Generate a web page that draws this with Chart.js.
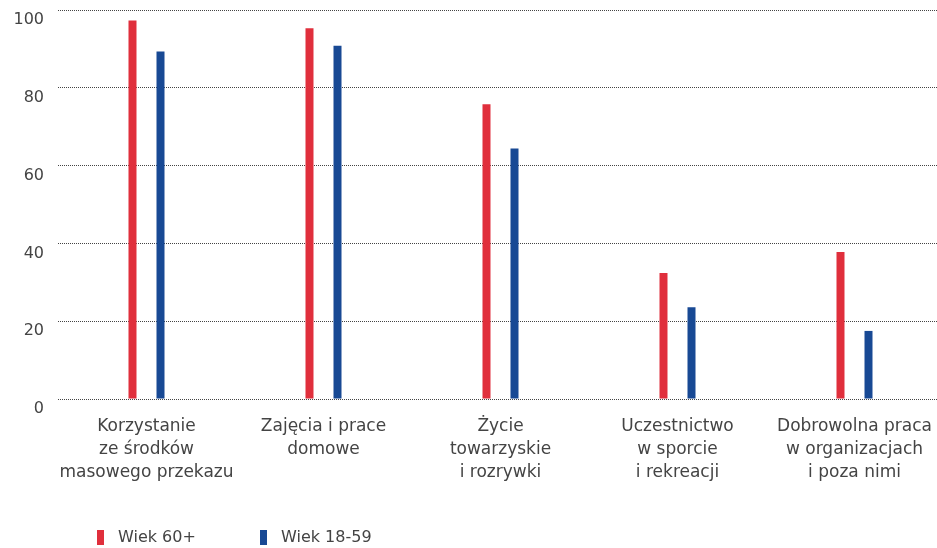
<!DOCTYPE html>
<html lang="pl">
<head>
<meta charset="utf-8">
<script src="https://cdn.jsdelivr.net/npm/chart.js@4.4.1/dist/chart.umd.min.js"></script>
<style>
  html, body { margin: 0; padding: 0; background: #fff; overflow: hidden; }
  #wrap { position: relative; width: 943px; height: 548px; }
  #legend { position: absolute; left: 0; top: 0; width: 100%; height: 100%; pointer-events: none;
            font-family: "DejaVu Sans", sans-serif; font-size: 16px; color: #444; }
  .item { position: absolute; top: 528px; height: 18px; line-height: 18px; white-space: nowrap; }
  .swatch { position: absolute; top: 2px; left: 0; width: 7px; height: 15px; }
  .label { position: absolute; top: 0; left: 21px; }
</style>
</head>
<body>
<div id="wrap">
  <canvas id="chart" width="943" height="548"></canvas>
  <div id="legend"></div>
</div>
<script>
// Categories (multi-line labels) and percentage values for both age groups
const categories = [
  ["Korzystanie", "ze środków", "masowego przekazu"],
  ["Zajęcia i prace", "domowe"],
  ["Życie", "towarzyskie", "i rozrywki"],
  ["Uczestnictwo", "w sporcie", "i rekreacji"],
  ["Dobrowolna praca", "w organizacjach", "i poza nimi"]
];
const seriesNames = ["Wiek 60+", "Wiek 18-59"];
const age60plus = [97.3, 95.3, 75.8, 32.4, 37.8];
const age18to59 = [89.3, 90.8, 64.4, 23.6, 17.5];
const yTicks = [0, 20, 40, 60, 80, 100];

const RED = "#E02F3C";
const BLUE = "#184994";
const FONT = "'DejaVu Sans', sans-serif";

const chart = new Chart(document.getElementById("chart"), {
  type: "bar",
  data: {
    labels: categories,
    datasets: [
      { label: seriesNames[0], data: age60plus, backgroundColor: RED },
      { label: seriesNames[1], data: age18to59, backgroundColor: BLUE }
    ]
  },
  options: {
    responsive: false,
    animation: false,
    events: [],
    layout: { padding: { top: 10, right: 0, left: 0, bottom: 48 } },
    datasets: {
      bar: { categoryPercentage: 0.3164, barPercentage: 0.2857 }
    },
    plugins: {
      legend: { display: false },
      tooltip: { enabled: false }
    },
    scales: {
      x: {
        grid: { display: false, drawTicks: false },
        border: { display: false },
        afterFit(scale) { scale.paddingLeft = 0; scale.paddingRight = 0; },
        ticks: {
          color: "#444",
          padding: 16,
          maxRotation: 0,
          autoSkip: false,
          font: { family: FONT, size: 17, lineHeight: "23px" }
        }
      },
      y: {
        min: 0,
        max: 100,
        afterBuildTicks(scale) { scale.ticks = yTicks.map(v => ({ value: v })); },
        afterFit(scale) { scale.width = 58; scale.paddingTop = 0; scale.paddingBottom = 0; },
        grid: { color: "#444", lineWidth: 1, drawTicks: false },
        border: { display: false, dash: [1, 1] },
        ticks: {
          color: "#444",
          padding: 14,
          labelOffset: 10,
          font: { family: FONT, size: 16 }
        }
      }
    }
  }
});

// Legend built from the dataset labels and colours
const legend = document.getElementById("legend");
const legendX = [97, 260];
chart.data.datasets.forEach((ds, i) => {
  const item = document.createElement("div");
  item.className = "item";
  item.style.left = legendX[i] + "px";
  const sw = document.createElement("span");
  sw.className = "swatch";
  sw.style.background = ds.backgroundColor;
  const tx = document.createElement("span");
  tx.className = "label";
  tx.textContent = ds.label;
  item.appendChild(sw);
  item.appendChild(tx);
  legend.appendChild(item);
});
</script>
</body>
</html>
